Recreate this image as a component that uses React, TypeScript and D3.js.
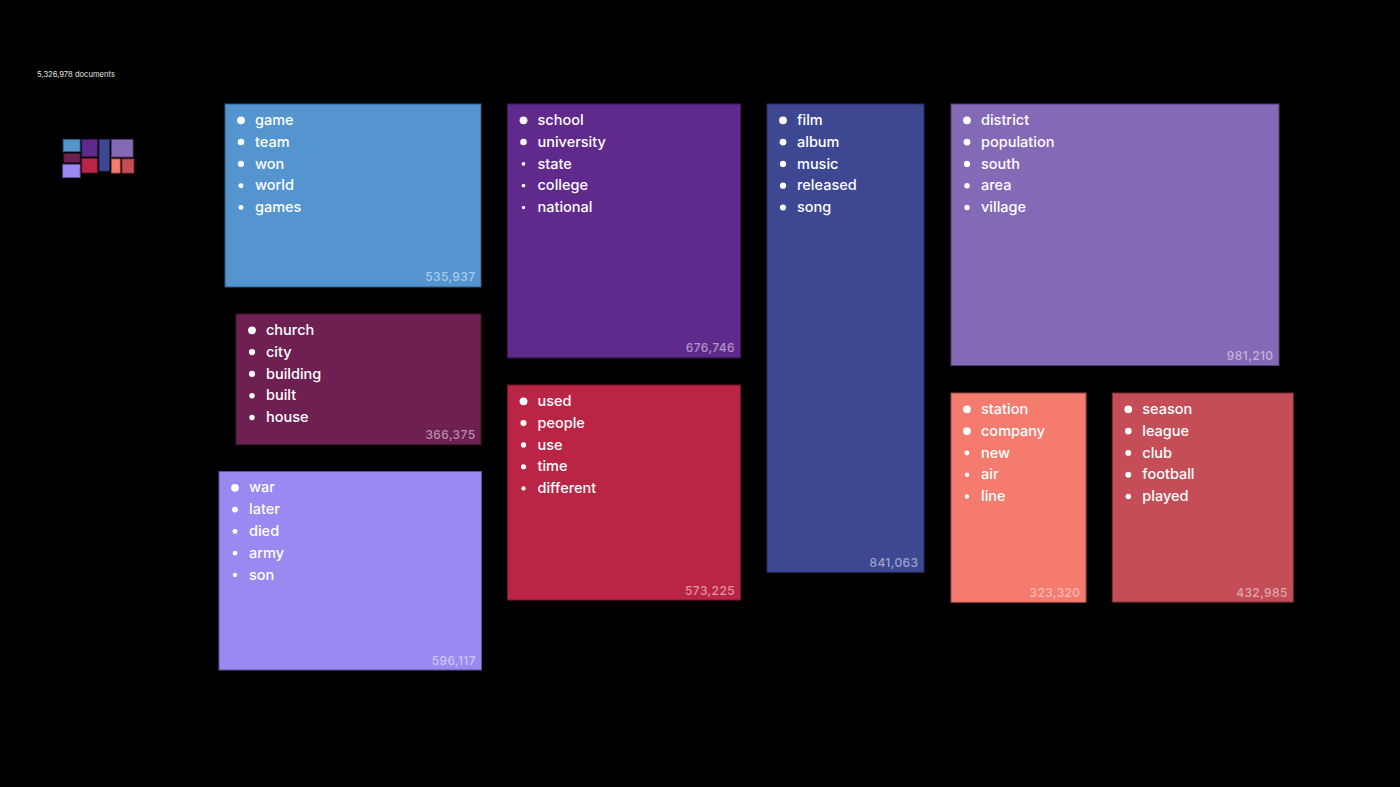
import React from "react";
import * as d3 from "d3";

// Topic clusters: top words, document counts, and relative word weights
const topicWords: string[][] = [
  ["game", "team", "won", "world", "games"],
  ["church", "city", "building", "built", "house"],
  ["war", "later", "died", "army", "son"],
  ["school", "university", "state", "college", "national"],
  ["used", "people", "use", "time", "different"],
  ["film", "album", "music", "released", "song"],
  ["district", "population", "south", "area", "village"],
  ["station", "company", "new", "air", "line"],
  ["season", "league", "club", "football", "played"],
];

const topicDocs: number[] = [
  535937, 366375, 596117, 676746, 573225, 841063, 981210, 323320, 432985,
];

const wordWeights: number[][] = [
  [1.0, 0.83, 0.78, 0.64, 0.64],
  [1.0, 0.8, 0.78, 0.7, 0.68],
  [1.0, 0.75, 0.64, 0.6, 0.55],
  [1.0, 0.83, 0.47, 0.47, 0.42],
  [1.0, 0.78, 0.68, 0.66, 0.55],
  [1.0, 0.88, 0.8, 0.8, 0.78],
  [1.0, 0.88, 0.8, 0.7, 0.68],
  [1.0, 1.0, 0.64, 0.56, 0.56],
  [1.0, 0.86, 0.75, 0.75, 0.7],
];

const topicColors: string[] = [
  "#5495d0", "#6e2052", "#9b89f2", "#5f2a8c", "#bb2545",
  "#3d4792", "#8469b6", "#f47b6e", "#c44d58",
];

// Placement of each cluster box: left edge, top edge, width (height follows from the count)
const layout = [
  { x: 225, y: 104, w: 256 },
  { x: 236, y: 314, w: 245 },
  { x: 219, y: 471.5, w: 262.5 },
  { x: 507.5, y: 104, w: 233 },
  { x: 507.5, y: 385, w: 233 },
  { x: 767, y: 104, w: 157 },
  { x: 951, y: 104, w: 328 },
  { x: 951, y: 393, w: 135 },
  { x: 1112.3, y: 393, w: 181 },
];

const DOCS_PER_PX2 = 11.44;
const totalDocs = d3.sum(topicDocs);

const W = 1400;
const H = 787;
const FONT = "Inter, 'Noto Sans', sans-serif";

export default function App() {
  const areaScale = d3.scaleLinear().domain([0, 1]).range([0, 1 / DOCS_PER_PX2]);
  const bulletR = d3.scaleLinear().domain([0, 1]).range([0, 3.9]);
  const fmt = d3.format(",");

  const boxes = topicDocs.map((v, i) => {
    const { x, y, w } = layout[i];
    const h = areaScale(v) / w;
    return { x, y, w, h, v, i };
  });

  const x0 = d3.min(boxes, (b) => b.x)!;
  const y0 = d3.min(boxes, (b) => b.y)!;
  const x1 = d3.max(boxes, (b) => b.x + b.w)!;
  const y1 = d3.max(boxes, (b) => b.y + b.h)!;
  const miniX = d3.scaleLinear().domain([x0, x1]).range([62.7, 134]);
  const miniY = d3.scaleLinear().domain([y0, y1]).range([139.3, 177.7]);

  return (
    <div style={{ position: "fixed", left: 0, top: 0, width: W, height: H, background: "#000" }}>
      <svg width={W} height={H} style={{ display: "block" }}>
        <rect width={W} height={H} fill="#000" />
        <text x={37} y={77} fill="#e6e6e6" fontSize={7.6} fontFamily={FONT}>
          {fmt(totalDocs)} documents
        </text>

        {/* overview map */}
        <g>
          {boxes.map((b) => (
            <rect
              key={"m" + b.i}
              x={miniX(b.x)}
              y={miniY(b.y)}
              width={miniX(b.x + b.w) - miniX(b.x)}
              height={miniY(b.y + b.h) - miniY(b.y)}
              fill={topicColors[b.i]}
              stroke={d3.color(topicColors[b.i])!.darker(1.6).formatHex()}
              strokeWidth={0.8}
            />
          ))}
        </g>

        {boxes.map((b) => (
          <g key={b.i} transform={`translate(${b.x},${b.y})`}>
            <rect
              width={b.w}
              height={b.h}
              fill={topicColors[b.i]}
              stroke={d3.color(topicColors[b.i])!.darker(1.4).formatHex()}
              strokeWidth={1}
            />
            {topicWords[b.i].map((word, j) => (
              <g key={word} transform={`translate(0,${16.3 + j * 21.8})`}>
                <circle cx={16} cy={0} r={bulletR(wordWeights[b.i][j])} fill="#fff" />
                <text
                  x={30}
                  y={4.6}
                  fill="#fff"
                  fontSize={14.5}
                  fontWeight={500}
                  fontFamily={FONT}
                >
                  {word}
                </text>
              </g>
            ))}
            <text
              x={b.w - 5.5}
              y={b.h - 5.5}
              textAnchor="end"
              fill="#fff"
              fillOpacity={0.5}
              fontSize={12}
              fontWeight={500}
              fontFamily={FONT}
              letterSpacing={0.4}
            >
              {fmt(b.v)}
            </text>
          </g>
        ))}
      </svg>
    </div>
  );
}
